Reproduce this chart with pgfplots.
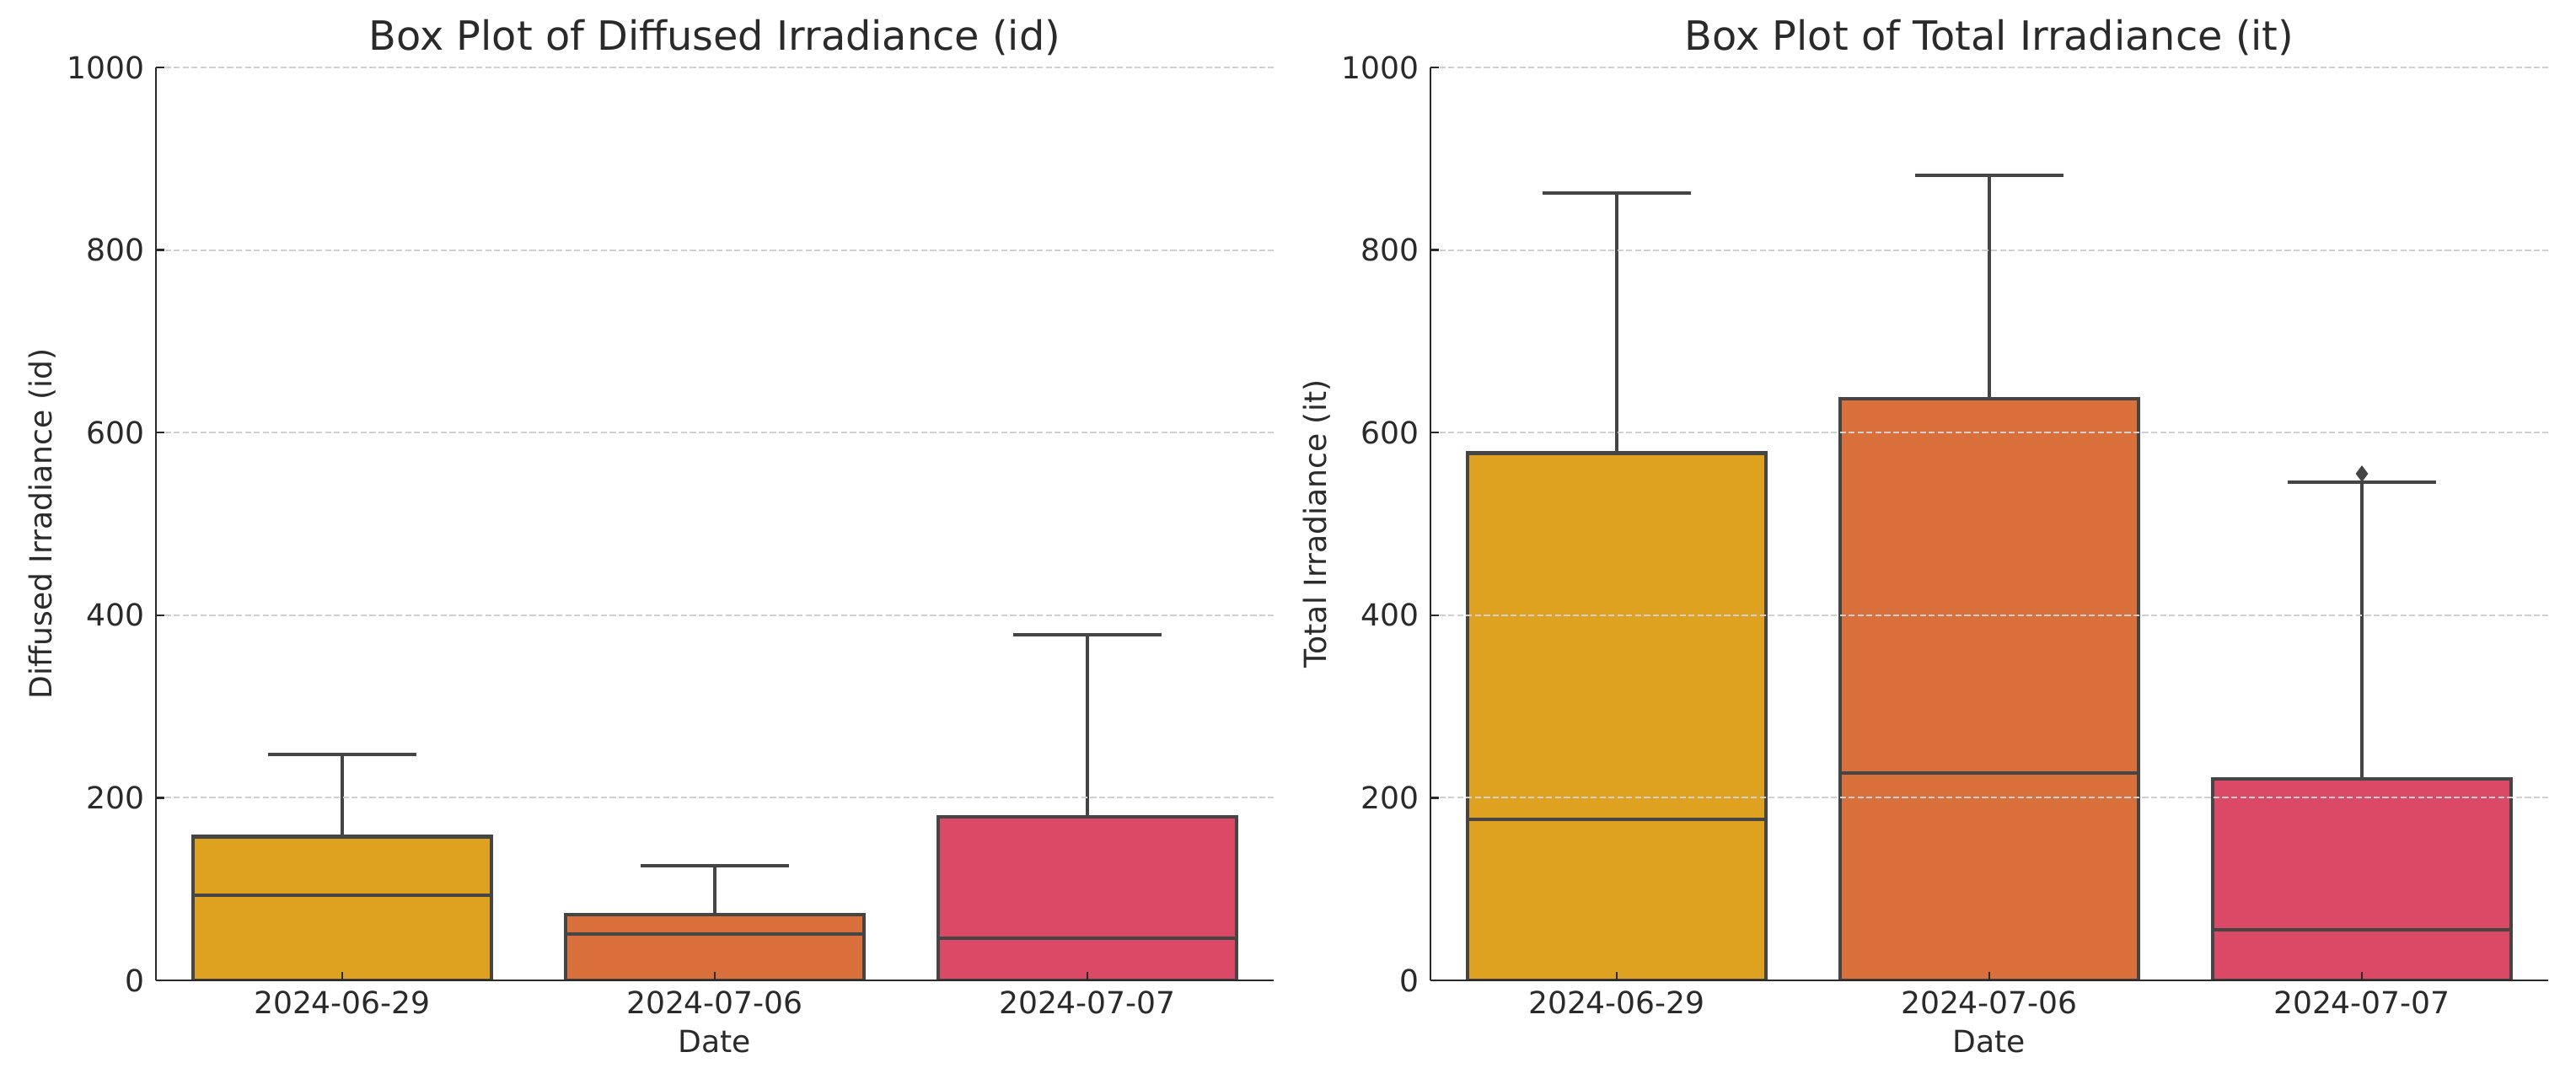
\documentclass[border=0pt]{standalone}
\usepackage{fontspec}
\setmainfont{DejaVu Sans}
\usepackage{pgfplots}
\pgfplotsset{compat=1.18}
\definecolor{cA}{HTML}{DFA220}
\definecolor{cB}{HTML}{D9703B}
\definecolor{cC}{HTML}{DC4967}
\definecolor{edge}{HTML}{454545}
\definecolor{txt}{HTML}{2A2A2A}
\definecolor{gridc}{HTML}{D0D0D0}
\pgfplotsset{
 myaxis/.style={
  scale only axis, width=477.36pt, height=389.88pt,
  xmin=-0.5, xmax=2.5, ymin=0, ymax=1000,
  xtick={0,1,2}, xticklabels={2024-06-29,2024-07-06,2024-07-07},
  ytick={0,200,400,600,800,1000},
  axis lines*=left, axis line style={line width=1pt, color=txt},
  tick align=inside, major tick length=3.6pt, tick style={line width=0.8pt, color=txt},
  ymajorgrids, grid style={line width=0.7pt, color=gridc, dash pattern=on 2.6pt off 1.2pt},
  axis on top,
  /pgf/number format/assume math mode=true,
  /pgf/number format/1000 sep={},
  tick label style={font=\fontsize{13}{15}\selectfont, color=txt},
  xticklabel style={anchor=base, yshift=-14.3pt},
  yticklabel style={anchor=east, inner sep=0pt, xshift=-4.7pt},
  every axis x label/.style={at={(axis description cs:0.5,-0.0794)}, anchor=base},
  every axis y label/.style={at={(axis description cs:-0.0935,0.5)}, anchor=base, rotate=90},
  label style={font=\fontsize{13}{15}\selectfont, color=txt},
  every axis title/.style={at={(axis description cs:0.5,1)}, anchor=base, yshift=7.2pt},
  title style={font=\fontsize{17.2}{20}\selectfont, color=txt},
 },
 boxs/.style={fill=#1, draw=edge, line width=1.5pt},
 lns/.style={draw=edge, line width=1.5pt},
}
\begin{document}
\begin{tikzpicture}
\useasboundingbox (0,0) rectangle (1100.16pt,460.44pt);
\begin{axis}[myaxis, at={(66.6pt,41.76pt)}, anchor=south west,
  title={Box Plot of Diffused Irradiance (id)}, xlabel={Date}, ylabel={Diffused Irradiance (id)}]
% 2024-06-29: Q1 0, median 93.5, Q3 157.5, upper whisker 247.5
\addplot[lns] coordinates {(0,157.5) (0,247.5)};
\addplot[lns] coordinates {(-0.2,247.5) (0.2,247.5)};
\addplot[boxs=cA] coordinates {(-0.4,0) (0.4,0) (0.4,157.5) (-0.4,157.5)} -- cycle;
\addplot[lns] coordinates {(-0.4,93.5) (0.4,93.5)};
% 2024-07-06: Q1 0, median 50.5, Q3 72.3, upper whisker 125.5
\addplot[lns] coordinates {(1,72.3) (1,125.5)};
\addplot[lns] coordinates {(0.8,125.5) (1.2,125.5)};
\addplot[boxs=cB] coordinates {(0.6,0) (1.4,0) (1.4,72.3) (0.6,72.3)} -- cycle;
\addplot[lns] coordinates {(0.6,50.5) (1.4,50.5)};
% 2024-07-07: Q1 0, median 46, Q3 179, upper whisker 378.5
\addplot[lns] coordinates {(2,179) (2,378.5)};
\addplot[lns] coordinates {(1.8,378.5) (2.2,378.5)};
\addplot[boxs=cC] coordinates {(1.6,0) (2.4,0) (2.4,179) (1.6,179)} -- cycle;
\addplot[lns] coordinates {(1.6,46) (2.4,46)};
\end{axis}
\begin{axis}[myaxis, at={(610.92pt,41.76pt)}, anchor=south west,
  title={Box Plot of Total Irradiance (it)}, xlabel={Date}, ylabel={Total Irradiance (it)}]
% 2024-06-29: Q1 0, median 176, Q3 577.5, upper whisker 862.5
\addplot[lns] coordinates {(0,577.5) (0,862.5)};
\addplot[lns] coordinates {(-0.2,862.5) (0.2,862.5)};
\addplot[boxs=cA] coordinates {(-0.4,0) (0.4,0) (0.4,577.5) (-0.4,577.5)} -- cycle;
\addplot[lns] coordinates {(-0.4,176) (0.4,176)};
% 2024-07-06: Q1 0, median 227, Q3 637, upper whisker 882
\addplot[lns] coordinates {(1,637) (1,882)};
\addplot[lns] coordinates {(0.8,882) (1.2,882)};
\addplot[boxs=cB] coordinates {(0.6,0) (1.4,0) (1.4,637) (0.6,637)} -- cycle;
\addplot[lns] coordinates {(0.6,227) (1.4,227)};
% 2024-07-07: Q1 0, median 55.5, Q3 220.5, upper whisker 545.5, outlier 555
\addplot[lns] coordinates {(2,220.5) (2,545.5)};
\addplot[lns] coordinates {(1.8,545.5) (2.2,545.5)};
\addplot[boxs=cC] coordinates {(1.6,0) (2.4,0) (2.4,220.5) (1.6,220.5)} -- cycle;
\addplot[lns] coordinates {(1.6,55.5) (2.4,55.5)};
\addplot[only marks, mark=diamond*, mark size=3.2pt, color=edge] coordinates {(2,555)};
\end{axis}
\end{tikzpicture}
\end{document}
